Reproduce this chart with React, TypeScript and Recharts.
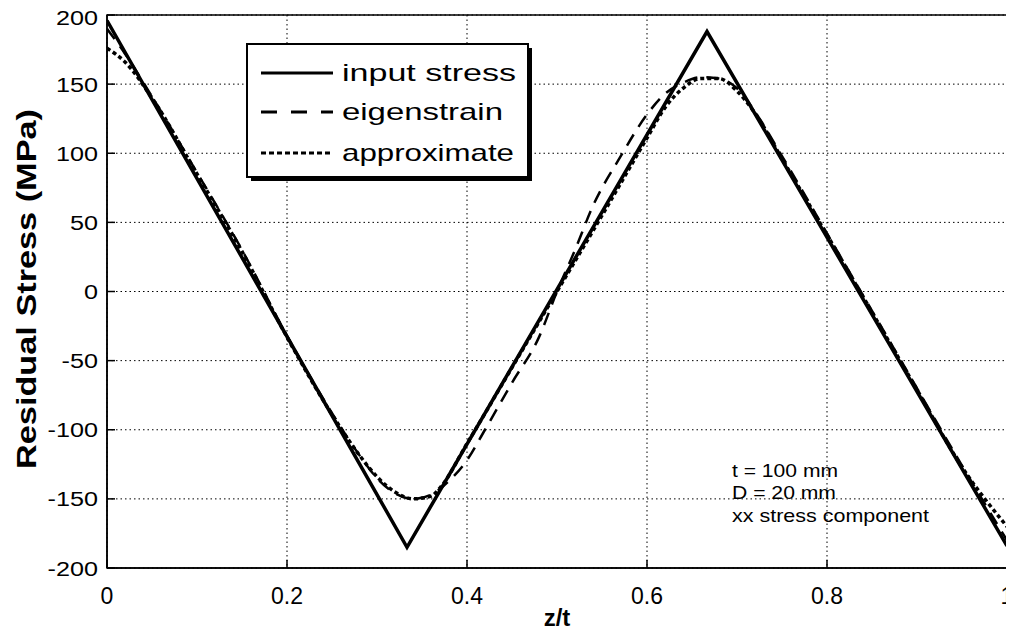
import React from 'react';
import { LineChart, Line, XAxis, YAxis, CartesianGrid, ReferenceArea } from 'recharts';

// ---- data ----
const xTicks = [0, 0.2, 0.4, 0.6, 0.8, 1];
const yTicks = [-200, -150, -100, -50, 0, 50, 100, 150, 200];

const inputX = [0, 1 / 3, 2 / 3, 1];
const inputY = [196, -185, 188, -184];

const eigenX = [0, 0.02, 0.05, 0.1, 0.15, 0.2, 0.25, 0.28, 0.3, 0.32, 0.34, 0.36, 0.38, 0.4, 0.42, 0.45, 0.48, 0.5, 0.52, 0.54, 0.57, 0.6, 0.62, 0.64, 0.66, 0.68, 0.7, 0.72, 0.75, 0.8, 0.85, 0.9, 0.95, 1];
const eigenY = [190, 172, 141, 86, 30, -32, -88, -118, -135, -146, -150, -147, -137, -122, -100, -66, -33, 0, 30, 62, 97, 128, 143, 151, 155, 154, 147, 130, 98, 42, -14, -70, -126, -180];

const approxX = [0, 0.02, 0.05, 0.1, 0.15, 0.2, 0.25, 0.28, 0.3, 0.32, 0.34, 0.36, 0.37, 0.4, 0.45, 0.5, 0.55, 0.6, 0.62, 0.64, 0.66, 0.68, 0.7, 0.72, 0.75, 0.8, 0.85, 0.9, 0.95, 1];
const approxY = [176, 166, 140, 85, 29, -33, -89, -118, -134, -145, -150, -148, -142, -110, -55, 0, 55, 111, 133, 147, 154, 154, 145, 129, 96, 41, -15, -71, -127, -170];

const seriesNames = ['input stress', 'eigenstrain', 'approximate'];
const noteLines = ['t = 100 mm', 'D = 20 mm', 'xx stress component'];

const zip = (xs: number[], ys: number[]) => xs.map((x, i) => ({ x, y: ys[i] }));
const inputData = zip(inputX, inputY);
const eigenData = zip(eigenX, eigenY);
const approxData = zip(approxX, approxY);

const FONT = '"Liberation Sans", Arial, sans-serif';

const XTick = (props: any) => {
  const { x, y, payload } = props;
  return (
    <text x={x} y={y} dy="0.71em" textAnchor="middle" fontFamily={FONT} fontSize={23} fill="#000">
      {payload.value}
    </text>
  );
};

const YTick = (props: any) => {
  const { x, y, payload } = props;
  return (
    <text
      transform={`translate(${x},${y}) scale(1.2,1)`}
      dy="0.36em"
      textAnchor="end"
      fontFamily={FONT}
      fontSize={21}
      fill="#000"
    >
      {payload.value}
    </text>
  );
};

const legendDashes = ['none', '16 14', '5 3'];
const legendTextLen = [174, 161, 172];
const noteTextLen = [106, 104, 197];

const Overlay = () => (
  <svg width={1006} height={623} style={{ position: 'absolute', left: 0, top: 0, pointerEvents: 'none' }}>
    <g transform="translate(239,36)">
      <rect x={4} y={4} width={281} height={133} fill="#000" />
      <rect x={0} y={0} width={281} height={133} fill="#fff" stroke="#000" strokeWidth={2} />
      {seriesNames.map((n, i) => {
        const cy = [29, 68, 109][i];
        return (
          <g key={n}>
            <line x1={14} x2={86} y1={cy} y2={cy} stroke="#000" strokeWidth={3} strokeDasharray={legendDashes[i]} />
            <text x={95} y={cy + 8} fontFamily={FONT} fontSize={24} fill="#000" textLength={legendTextLen[i]} lengthAdjust="spacingAndGlyphs">
              {n}
            </text>
          </g>
        );
      })}
    </g>
    {noteLines.map((l, i) => (
      <text key={l} x={724} y={[469, 491, 514][i]} fontFamily={FONT} fontSize={19} fill="#000" textLength={noteTextLen[i]} lengthAdjust="spacingAndGlyphs">
        {l}
      </text>
    ))}
  </svg>
);

export default function App() {
  return (
    <div style={{ position: 'relative', width: 1006, height: 623 }}>
      <LineChart width={1006} height={623} margin={{ top: 7, right: 7, bottom: 0, left: 0 }}>
        <CartesianGrid stroke="#000" strokeWidth={1} strokeDasharray="1.5 3" />
        <XAxis
          type="number"
          dataKey="x"
          domain={[0, 1]}
          ticks={xTicks}
          height={63}
          tick={<XTick />}
          tickLine={{ stroke: '#000', strokeWidth: 1.5 }}
          tickSize={-8}
          tickMargin={28}
          axisLine={{ stroke: '#000', strokeWidth: 1.5 }}
          allowDataOverflow
          label={{
            content: (p: any) => (
              <text x={p.viewBox.x + p.viewBox.width / 2} y={618} textAnchor="middle" fontFamily={FONT} fontSize={24} fontWeight="bold" fill="#000">
                z/t
              </text>
            ),
          }}
        />
        <YAxis
          type="number"
          dataKey="y"
          domain={[-200, 200]}
          ticks={yTicks}
          width={99}
          tick={<YTick />}
          tickLine={{ stroke: '#000', strokeWidth: 1.5 }}
          tickSize={-8}
          tickMargin={17}
          axisLine={{ stroke: '#000', strokeWidth: 1.5 }}
          allowDataOverflow
          label={{
            content: (p: any) => {
              const cy = p.viewBox.y + p.viewBox.height / 2 - 2.5;
              return (
                <text
                  x={18}
                  y={cy}
                  transform={`rotate(-90, 18, ${cy})`}
                  dy="0.36em"
                  textAnchor="middle"
                  fontFamily={FONT}
                  fontSize={27}
                  fontWeight="bold"
                  fill="#000"
                  textLength={360}
                  lengthAdjust="spacingAndGlyphs"
                >
                  Residual Stress (MPa)
                </text>
              );
            },
          }}
        />
        <ReferenceArea x1={0} x2={1} y1={-200} y2={200} fill="none" stroke="#000" strokeWidth={1.5} ifOverflow="visible" />
        <Line data={inputData} dataKey="y" name={seriesNames[0]} type="linear" stroke="#000" strokeWidth={3.5} dot={false} isAnimationActive={false} />
        <Line data={eigenData} dataKey="y" name={seriesNames[1]} type="monotone" stroke="#000" strokeWidth={2.5} strokeDasharray="13 9" dot={false} isAnimationActive={false} />
        <Line data={approxData} dataKey="y" name={seriesNames[2]} type="monotone" stroke="#000" strokeWidth={3.5} strokeDasharray="4 3" dot={false} isAnimationActive={false} />
      </LineChart>
      <Overlay />
    </div>
  );
}
